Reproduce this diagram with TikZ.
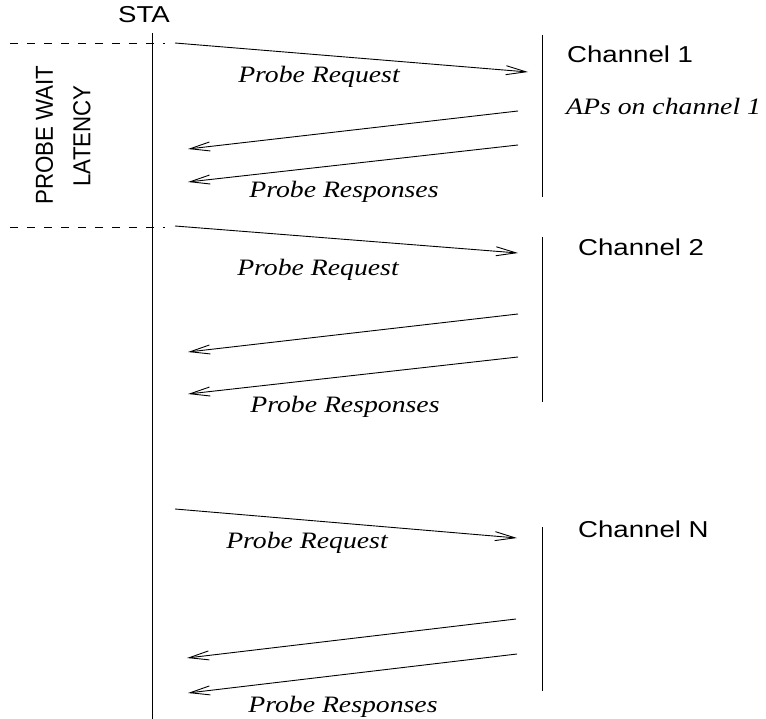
\documentclass[tikz,border=0pt]{standalone}
\usepackage{fontspec}
\setmainfont{Liberation Serif}
\newfontfamily\labsans{Liberation Sans}
\usetikzlibrary{arrows.meta}
\newcommand\hwide[1]{\scalebox{1.2}[1]{#1}}
\newcommand\hwidei[1]{\scalebox{1.18}[1]{#1}}
\begin{document}
\begin{tikzpicture}[x=1pt,y=-1pt,
  msg/.style={line width=0.9pt,-{Straight Barb[length=20pt,width=9pt,line width=0.9pt]}},
  lifeline/.style={line width=0.9pt},
  sepline/.style={line width=0.9pt,dash pattern=on 8pt off 9pt},
  sanslab/.style={inner sep=0pt,font=\labsans\fontsize{23}{27}\selectfont},
  rotlab/.style={inner sep=0pt,font=\labsans\fontsize{22.3}{26}\selectfont},
  itlab/.style={inner sep=0pt,font=\itshape\fontsize{23.5}{27}\selectfont},
]
\useasboundingbox (0,0) rectangle (766,719);

% STA lifeline
\node[sanslab,anchor=base] (sta) at (144,23) {\hwide{STA}};
\coordinate (staTop) at (152,33);
\coordinate (staBot) at (152,719);
\draw[lifeline] (staTop) -- (staBot);

% dashed separators
\coordinate (d1a) at (10,43); \coordinate (d1b) at (165,43);
\coordinate (d2a) at (10,227); \coordinate (d2b) at (165,227);
\draw[sepline] (d1a) -- (d1b);
\draw[sepline] (d2a) -- (d2b);

\node[rotlab,rotate=90] (pw) at (44.5,135) {\scalebox{1}[1.1]{PROBE WAIT}};
\node[rotlab,rotate=90] (lat) at (82,136) {\scalebox{1}[1.1]{LATENCY}};

% Channel 1
\coordinate (c1t) at (542,35); \coordinate (c1b) at (542,197);
\draw[lifeline] (c1t) -- (c1b);
\node[sanslab,anchor=base west] (ch1) at (567,63) {\hwide{Channel 1}};
\node[itlab,anchor=base west] (aps) at (566,115) {\hwidei{APs on channel 1}};
\coordinate (r1s) at (175,43); \coordinate (r1e) at (528,72);
\draw[msg] (r1s) -- (r1e);
\node[itlab,anchor=base] (req1) at (319,83) {\hwidei{Probe Request}};
\coordinate (p1as) at (518,111); \coordinate (p1ae) at (188,149);
\coordinate (p1bs) at (518,145); \coordinate (p1be) at (188,182);
\draw[msg] (p1as) -- (p1ae);
\draw[msg] (p1bs) -- (p1be);
\node[itlab,anchor=base] (rsp1) at (344,198) {\hwidei{Probe Responses}};

% Channel 2
\coordinate (c2t) at (542,237); \coordinate (c2b) at (542,402);
\draw[lifeline] (c2t) -- (c2b);
\node[sanslab,anchor=base west] (ch2) at (578,256) {\hwide{Channel 2}};
\coordinate (r2s) at (175,226); \coordinate (r2e) at (518,253);
\draw[msg] (r2s) -- (r2e);
\node[itlab,anchor=base] (req2) at (318,276) {\hwidei{Probe Request}};
\coordinate (p2as) at (518,314); \coordinate (p2ae) at (188,352);
\coordinate (p2bs) at (518,357); \coordinate (p2be) at (188,394);
\draw[msg] (p2as) -- (p2ae);
\draw[msg] (p2bs) -- (p2be);
\node[itlab,anchor=base] (rsp2) at (345,412) {\hwidei{Probe Responses}};

% Channel N
\coordinate (cNt) at (542,527); \coordinate (cNb) at (542,691);
\draw[lifeline] (cNt) -- (cNb);
\node[sanslab,anchor=base west] (chN) at (578,537) {\hwide{Channel N}};
\coordinate (rNs) at (175,509); \coordinate (rNe) at (517,538);
\draw[msg] (rNs) -- (rNe);
\node[itlab,anchor=base] (reqN) at (307,548) {\hwidei{Probe Request}};
\coordinate (pNas) at (516,619); \coordinate (pNae) at (187,658);
\coordinate (pNbs) at (517,654); \coordinate (pNbe) at (188,693);
\draw[msg] (pNas) -- (pNae);
\draw[msg] (pNbs) -- (pNbe);
\node[itlab,anchor=base] (rspN) at (343,712) {\hwidei{Probe Responses}};
\end{tikzpicture}
\end{document}
